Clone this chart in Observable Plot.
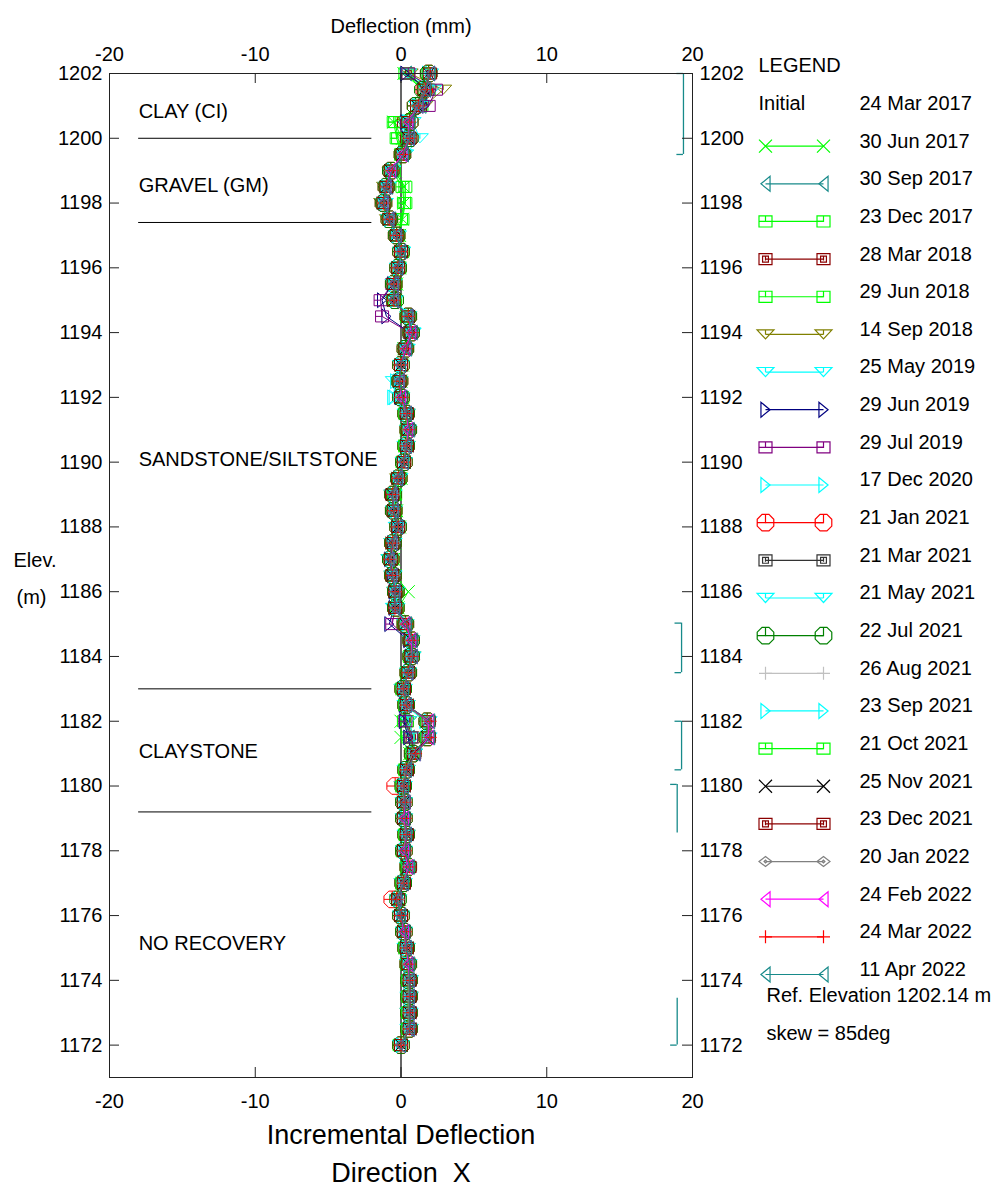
<!DOCTYPE html>
<html>
<head>
<meta charset="utf-8">
<script src="https://cdn.jsdelivr.net/npm/d3@7"></script>
<script src="https://cdn.jsdelivr.net/npm/@observablehq/plot@0.6"></script>
<style>
html, body { margin: 0; padding: 0; background: #fff; }
#wrap { position: relative; width: 1000px; height: 1198px; }
#main { position: absolute; left: 0; top: 0; }
#legend { position: absolute; left: 745px; top: 0; }
</style>
</head>
<body>
<div id="wrap"><div id="main"></div><div id="legend"></div></div>
<script>
// ---------- DATA ----------
const elevations = [1202,1201.5,1201,1200.5,1200,1199.5,1199,1198.5,1198,1197.5,
  1197,1196.5,1196,1195.5,1195,1194.5,1194,1193.5,1193,1192.5,
  1192,1191.5,1191,1190.5,1190,1189.5,1189,1188.5,1188,1187.5,
  1187,1186.5,1186,1185.5,1185,1184.5,1184,1183.5,1183,1182.5,
  1182,1181.5,1181,1180.5,1180,1179.5,1179,1178.5,1178,1177.5,
  1177,1176.5,1176,1175.5,1175,1174.5,1174,1173.5,1173,1172.5,1172];

const xTicks = [-20, -10, 0, 10, 20];
const yTicks = [1172,1174,1176,1178,1180,1182,1184,1186,1188,1190,1192,1194,1196,1198,1200,1202];

const initialLabel = "Initial";
const initialDate = "24 Mar 2017";
const seriesDates = ["30 Jun 2017","30 Sep 2017","23 Dec 2017","28 Mar 2018","29 Jun 2018","14 Sep 2018",
  "25 May 2019","29 Jun 2019","29 Jul 2019","17 Dec 2020","21 Jan 2021","21 Mar 2021","21 May 2021",
  "22 Jul 2021","26 Aug 2021","23 Sep 2021","21 Oct 2021","25 Nov 2021","23 Dec 2021","20 Jan 2022",
  "24 Feb 2022","24 Mar 2022","11 Apr 2022"];

const d20170630 = [0.2,1.5,1.3,-0.5,0.1,0.0,-0.4,0.2,0.2,0.1,
  -0.1,0.1,-0.1,-0.3,-0.4,0.4,0.6,0.2,0.1,0.0,
  0.1,0.3,0.4,0.3,0.2,0.0,-0.4,-0.3,-0.1,-0.4,
  -0.5,-0.4,0.5,-0.2,0.2,0.6,0.6,0.4,0.1,0.3,
  0.0,0.0,0.6,0.3,0.1,0.2,0.2,0.3,0.2,0.4,
  0.1,-0.1,0.0,0.2,0.3,0.4,0.5,0.5,0.5,0.5,0.0];
const d20170930 = [0.4,1.7,1.4,0.1,0.4,0.1,-0.6,-0.9,-1.1,-0.7,
  -0.3,0.0,-0.2,-0.5,-0.5,0.4,0.7,0.3,0.0,-0.1,
  0.0,0.3,0.5,0.3,0.2,-0.1,-0.5,-0.5,-0.2,-0.5,
  -0.7,-0.5,-0.3,-0.3,0.3,0.7,0.7,0.5,0.1,0.3,
  0.3,0.6,0.8,0.3,0.1,0.2,0.2,0.3,0.2,0.5,
  0.1,-0.2,0.0,0.2,0.3,0.5,0.5,0.5,0.5,0.5,0.0];
const d20171223 = [0.3,1.6,1.3,-0.5,-0.3,0.0,-0.5,0.3,0.3,0.1,
  -0.2,0.0,-0.1,-0.4,-0.4,0.4,0.6,0.3,0.0,-0.1,
  0.0,0.3,0.4,0.3,0.1,-0.1,-0.4,-0.4,-0.2,-0.5,
  -0.6,-0.5,-0.3,-0.3,0.2,0.6,0.7,0.4,0.1,0.3,
  0.2,0.5,0.7,0.3,0.1,0.2,0.2,0.3,0.1,0.4,
  0.1,-0.2,0.0,0.2,0.3,0.4,0.5,0.5,0.5,0.5,-0.1];
const d20180328 = [0.5,1.8,1.3,0.2,0.4,0.1,-0.7,-1.0,-1.2,-0.8,
  -0.3,0.0,-0.2,-0.5,-0.5,0.5,0.7,0.3,0.0,-0.1,
  0.0,0.35,0.5,0.35,0.2,-0.15,-0.55,-0.5,-0.2,-0.55,
  -0.7,-0.55,-0.35,-0.35,0.3,0.7,0.7,0.5,0.15,0.35,
  0.4,0.8,0.8,0.35,0.15,0.2,0.2,0.35,0.2,0.5,
  0.15,-0.2,0.0,0.2,0.35,0.5,0.55,0.55,0.55,0.55,0.0];
const d20180629 = [0.4,1.9,1.4,-0.4,-0.2,0.1,-0.6,0.1,0.2,0.0,
  -0.2,0.1,-0.2,-0.4,-0.5,0.5,0.7,0.3,0.0,-0.1,
  0.1,0.4,0.5,0.3,0.2,-0.1,-0.5,-0.4,-0.2,-0.5,
  -0.7,-0.5,-0.3,-0.3,0.3,0.7,0.6,0.5,0.2,0.3,
  0.4,0.7,0.8,0.4,0.1,0.2,0.2,0.4,0.2,0.5,
  0.1,-0.2,0.0,0.2,0.4,0.5,0.5,0.6,0.5,0.5,0.0];
const d20180914 = [0.6,2.9,1.6,0.3,0.5,0.1,-0.7,-1.1,-1.3,-0.9,
  -0.3,0.0,-0.2,-0.5,-0.6,0.5,0.7,0.3,0.0,-0.1,
  0.0,0.4,0.5,0.4,0.2,-0.2,-0.6,-0.5,-0.2,-0.6,
  -0.8,-0.6,-0.4,-0.4,0.3,0.7,0.8,0.5,0.1,0.4,
  0.5,0.9,0.9,0.4,0.1,0.2,0.2,0.4,0.2,0.5,
  0.1,-0.2,0.0,0.2,0.4,0.5,0.6,0.6,0.5,0.6,0.0];
const d20190525 = [0.5,2.2,1.5,0.8,1.3,0.3,-0.6,-1.0,-1.2,-0.8,
  -0.3,0.1,-0.2,-0.5,-0.5,0.5,0.8,0.3,0.0,-0.5,
  0.0,0.3,0.5,0.3,0.2,-0.1,-0.6,-0.5,-0.3,-0.6,
  -0.8,-0.6,-0.4,-0.5,0.3,0.7,0.8,0.5,0.1,0.3,
  0.5,0.9,0.9,0.3,0.1,0.2,0.2,0.3,0.2,0.5,
  0.1,-0.2,0.0,0.2,0.3,0.5,0.6,0.5,0.5,0.5,0.0];
const d20190629 = [0.3,1.9,1.6,0.3,0.4,0.1,-0.7,-1.0,-1.2,-0.8,
  -0.3,0.0,-0.2,-0.6,-1.3,-1.0,0.6,0.3,0.0,-0.1,
  -0.1,0.3,0.5,0.3,0.2,-0.2,-0.5,-0.5,-0.3,-0.6,
  -0.8,-0.6,-0.5,-0.5,-0.8,0.5,0.6,0.5,0.1,0.2,
  0.2,0.5,0.7,0.3,0.1,0.2,0.2,0.3,0.2,0.4,
  0.1,-0.2,0.0,0.2,0.3,0.5,0.5,0.5,0.5,0.5,0.0];
const d20190729 = [0.5,2.4,1.9,0.4,0.5,0.1,-0.7,-1.0,-1.2,-0.8,
  -0.3,0.0,-0.2,-0.6,-1.4,-1.3,0.6,0.3,0.0,-0.1,
  0.0,0.3,0.5,0.4,0.2,-0.2,-0.6,-0.5,-0.2,-0.5,
  -0.7,-0.5,-0.4,-0.4,-0.6,0.6,0.7,0.5,0.1,0.3,
  0.3,0.7,0.9,0.4,0.1,0.2,0.2,0.4,0.2,0.5,
  0.1,-0.2,0.0,0.2,0.3,0.5,0.5,0.5,0.6,0.5,0.0];
const d20201217 = [1.8,1.7,1.1,0.4,0.5,0.1,-0.7,-1.0,-1.2,-0.8,
  -0.3,0.0,-0.2,-0.5,-0.4,0.5,0.7,0.3,0.0,-0.2,
  -0.6,0.3,0.5,0.3,0.2,-0.2,-0.5,-0.5,-0.2,-0.5,
  -0.7,-0.5,-0.4,-0.3,0.3,0.7,0.7,0.5,0.1,0.3,
  1.6,1.7,0.9,0.4,0.1,0.2,0.2,0.3,0.2,0.5,
  0.1,-0.2,0.0,0.2,0.3,0.5,0.5,0.5,0.5,0.5,0.0];
const d20210121 = [1.9,1.6,1.0,0.6,0.6,0.1,-0.7,-1.0,-1.2,-0.8,
  -0.3,0.0,-0.2,-0.5,-0.4,0.5,0.7,0.3,0.0,-0.1,
  0.0,0.35,0.5,0.35,0.2,-0.15,-0.55,-0.5,-0.2,-0.55,
  -0.7,-0.55,-0.35,-0.35,0.3,0.7,0.7,0.5,0.15,0.35,
  1.8,1.8,0.8,0.35,-0.4,0.2,0.2,0.35,0.2,0.5,
  0.15,-0.6,0.0,0.2,0.35,0.5,0.55,0.55,0.55,0.55,0.0];
const d20210321 = [1.9,1.6,1.1,0.5,0.5,0.1,-0.7,-1.0,-1.2,-0.8,
  -0.3,0.0,-0.2,-0.5,-0.5,0.5,0.7,0.3,0.0,-0.1,
  0.0,0.4,0.5,0.4,0.2,-0.2,-0.5,-0.5,-0.2,-0.5,
  -0.7,-0.6,-0.4,-0.4,0.3,0.7,0.7,0.5,0.2,0.4,
  1.8,1.8,0.9,0.4,0.2,0.2,0.2,0.4,0.2,0.5,
  0.2,-0.2,0.0,0.2,0.4,0.5,0.6,0.6,0.6,0.6,0.0];
const d20210521 = [2.0,1.7,1.1,0.5,0.6,0.2,-0.6,-0.9,-1.1,-0.8,
  -0.2,0.0,-0.2,-0.5,-0.4,0.5,0.8,0.4,0.0,-0.1,
  0.0,0.4,0.5,0.4,0.2,-0.1,-0.5,-0.5,-0.2,-0.5,
  -0.7,-0.5,-0.3,-0.3,0.3,0.7,0.7,0.5,0.2,0.4,
  1.9,1.9,0.9,0.4,0.2,0.2,0.2,0.4,0.2,0.5,
  0.2,-0.2,0.0,0.2,0.4,0.5,0.6,0.6,0.6,0.6,0.0];
const d20210722 = [1.9,1.5,1.0,0.6,0.6,0.1,-0.7,-1.0,-1.2,-0.8,
  -0.3,0.0,-0.2,-0.5,-0.4,0.5,0.7,0.3,0.0,-0.1,
  0.0,0.35,0.5,0.35,0.2,-0.15,-0.55,-0.5,-0.2,-0.55,
  -0.7,-0.55,-0.35,-0.35,0.3,0.7,0.7,0.5,0.15,0.35,
  1.8,1.8,0.8,0.35,0.15,0.2,0.2,0.35,0.2,0.5,
  0.15,-0.2,0.0,0.2,0.35,0.5,0.55,0.55,0.55,0.55,0.0];
const d20210826 = [1.9,1.6,1.1,0.5,0.5,0.1,-0.7,-1.0,-1.2,-0.8,
  -0.3,0.0,-0.2,-0.5,-0.5,0.5,0.7,0.3,0.0,-0.1,
  0.0,0.3,0.5,0.3,0.2,-0.2,-0.5,-0.5,-0.2,-0.5,
  -0.7,-0.5,-0.4,-0.4,0.3,0.7,0.7,0.5,0.1,0.3,
  1.8,1.8,0.8,0.3,0.1,0.2,0.2,0.3,0.2,0.5,
  0.1,-0.2,0.0,0.2,0.3,0.5,0.5,0.5,0.5,0.5,0.0];
const d20210923 = [2.0,1.7,1.2,0.5,0.6,0.2,-0.6,-1.0,-1.1,-0.8,
  -0.3,0.1,-0.2,-0.5,-0.4,0.6,0.8,0.4,0.0,-0.4,
  -0.5,0.4,0.5,0.4,0.2,-0.1,-0.5,-0.4,-0.2,-0.5,
  -0.7,-0.5,-0.3,-0.3,0.4,0.7,0.8,0.5,0.2,0.4,
  1.9,1.9,0.9,0.4,0.2,0.2,0.3,0.4,0.2,0.5,
  0.2,-0.2,0.1,0.2,0.4,0.5,0.6,0.6,0.6,0.6,0.0];
const d20211021 = [1.9,1.6,1.1,0.5,0.5,0.1,-0.7,-1.0,-1.2,-0.8,
  -0.3,0.0,-0.2,-0.5,-0.5,0.5,0.7,0.3,0.0,-0.1,
  0.0,0.3,0.5,0.3,0.2,-0.2,-0.5,-0.5,-0.2,-0.6,
  -0.7,-0.6,-0.4,-0.4,0.3,0.7,0.7,0.5,0.1,0.3,
  1.8,1.8,0.8,0.3,0.1,0.2,0.2,0.3,0.2,0.5,
  0.1,-0.2,0.0,0.2,0.3,0.5,0.5,0.5,0.5,0.5,0.0];
const d20211125 = [1.9,1.6,1.1,0.5,0.5,0.1,-0.7,-1.0,-1.2,-0.8,
  -0.3,0.0,-0.2,-0.5,-0.5,0.5,0.7,0.3,0.0,-0.1,
  0.0,0.4,0.5,0.4,0.2,-0.2,-0.6,-0.5,-0.2,-0.6,
  -0.7,-0.6,-0.4,-0.4,0.3,0.7,0.7,0.5,0.2,0.4,
  1.8,1.8,0.9,0.4,0.2,0.2,0.2,0.4,0.2,0.5,
  0.2,-0.2,0.0,0.2,0.4,0.5,0.6,0.6,0.6,0.6,0.0];
const d20211223 = [2.0,1.6,1.1,0.5,0.6,0.1,-0.7,-1.0,-1.2,-0.8,
  -0.3,0.0,-0.2,-0.5,-0.5,0.5,0.7,0.3,0.0,-0.1,
  0.0,0.4,0.5,0.4,0.2,-0.2,-0.6,-0.5,-0.2,-0.6,
  -0.7,-0.6,-0.4,-0.4,0.3,0.7,0.7,0.5,0.2,0.4,
  1.9,1.9,0.9,0.4,0.2,0.2,0.2,0.4,0.2,0.6,
  0.2,-0.2,0.0,0.2,0.4,0.5,0.6,0.6,0.6,0.6,0.0];
const d20220120 = [1.9,1.6,1.1,0.5,0.5,0.1,-0.7,-1.0,-1.2,-0.8,
  -0.3,0.0,-0.2,-0.5,-0.5,0.5,0.7,0.3,0.0,-0.1,
  0.0,0.3,0.5,0.3,0.2,-0.2,-0.5,-0.5,-0.2,-0.5,
  -0.7,-0.5,-0.4,-0.4,0.3,0.7,0.7,0.5,0.1,0.3,
  1.8,1.8,0.8,0.3,0.1,0.2,0.2,0.3,0.2,0.5,
  0.1,-0.2,0.0,0.2,0.3,0.5,0.5,0.5,0.5,0.5,0.0];
const d20220224 = [2.0,1.7,1.2,0.5,0.6,0.1,-0.7,-1.0,-1.2,-0.8,
  -0.3,0.0,-0.2,-0.5,-0.5,0.5,0.7,0.3,0.0,-0.1,
  0.0,0.4,0.5,0.4,0.2,-0.2,-0.6,-0.5,-0.2,-0.6,
  -0.8,-0.6,-0.4,-0.4,0.3,0.7,0.8,0.5,0.2,0.4,
  1.9,1.9,1.0,0.4,0.2,0.3,0.2,0.4,0.2,0.5,
  0.2,-0.3,0.0,0.2,0.4,0.5,0.6,0.6,0.6,0.6,0.0];
const d20220324 = [2.0,1.7,1.2,0.6,0.6,0.2,-0.6,-1.0,-1.2,-0.8,
  -0.3,0.0,-0.2,-0.5,-0.5,0.5,0.8,0.4,0.0,-0.1,
  0.1,0.4,0.6,0.4,0.2,-0.2,-0.6,-0.5,-0.2,-0.6,
  -0.8,-0.6,-0.4,-0.4,0.4,0.8,0.8,0.5,0.2,0.4,
  2.0,2.0,1.0,0.4,0.2,0.3,0.3,0.4,0.3,0.6,
  0.2,-0.3,0.0,0.3,0.4,0.6,0.6,0.6,0.6,0.6,0.0];
const d20220411 = [2.0,1.7,1.2,0.6,0.6,0.2,-0.6,-1.0,-1.2,-0.8,
  -0.3,0.0,-0.2,-0.5,-0.5,0.5,0.8,0.4,0.0,-0.1,
  0.1,0.4,0.6,0.4,0.2,-0.2,-0.6,-0.5,-0.2,-0.6,
  -0.8,-0.6,-0.4,-0.4,0.4,0.8,0.8,0.5,0.2,0.4,
  2.0,2.0,1.0,0.4,0.2,0.3,0.3,0.4,0.3,0.6,
  0.2,-0.3,0.0,0.3,0.4,0.6,0.6,0.6,0.6,0.6,0.0];

const seriesValues = [d20170630,d20170930,d20171223,d20180328,d20180629,d20180914,d20190525,
  d20190629,d20190729,d20201217,d20210121,d20210321,d20210521,d20210722,d20210826,d20210923,
  d20211021,d20211125,d20211223,d20220120,d20220224,d20220324,d20220411];

// Stratigraphy
const layerNames = ["CLAY (CI)", "GRAVEL (GM)", "SANDSTONE/SILTSTONE", "CLAYSTONE", "NO RECOVERY"];
const layerLabelElev = [1200.83, 1198.54, 1190.09, 1181.07, 1175.12];
const layerBoundaries = [1200.0, 1197.4, 1183.0, 1179.2];

// Zone brackets on the right
const bracketTop = [1202.0, 1185.03, 1182.0, 1180.05, 1173.45];
const bracketBottom = [1199.5, 1183.5, 1180.5, 1178.55, 1172.0];
const bracketX = [19.38, 19.25, 19.25, 18.95, 18.95];
const bracketTickTop = [true, true, true, true, false];
const bracketTickBottom = [true, true, true, false, true];

const refText = "Ref. Elevation 1202.14 m";
const skewText = "skew = 85deg";

// ---------- STYLES / LAYOUT ----------
const FONT = "'Liberation Sans', Arial, Helvetica, sans-serif";
const W = 1000, H = 1198, ML = 109, MR_ = 308, MT = 73, MB = 121;
const FW = W - ML - MR_, FH = H - MT - MB, TICK = 10;
const h0 = (s) => Math.sqrt(s / Math.PI);
const SYM = {
  times: { draw(c, s) { const h = h0(s); c.moveTo(-h, -h); c.lineTo(h, h); c.moveTo(h, -h); c.lineTo(-h, h); } },
  plus: { draw(c, s) { const h = h0(s); c.moveTo(-h, 0); c.lineTo(h, 0); c.moveTo(0, -h); c.lineTo(0, h); } },
  triLeft: { draw(c, s) { const h = h0(s), w = 0.7 * h, t = 1.15 * h; c.moveTo(-w, 0); c.lineTo(w, -t); c.lineTo(w, t); c.closePath(); } },
  triRight: { draw(c, s) { const h = h0(s), w = 0.7 * h, t = 1.15 * h; c.moveTo(w, 0); c.lineTo(-w, -t); c.lineTo(-w, t); c.closePath(); } },
  triDown: { draw(c, s) { const h = h0(s), w = 1.3 * h, t = 0.7 * h; c.moveTo(-w, -t); c.lineTo(w, -t); c.lineTo(0, t); c.closePath(); c.moveTo(0, -t); c.lineTo(0, 0); } },
  squareQ: { draw(c, s) { const h = h0(s), v = 0.85 * h; c.moveTo(-h, -v); c.lineTo(h, -v); c.lineTo(h, v); c.lineTo(-h, v); c.closePath(); c.moveTo(0, -v); c.lineTo(0, 0); c.lineTo(-h, 0); } },
  squareBox: { draw(c, s) { const h = h0(s), v = 0.85 * h, q = 0.45 * h; c.moveTo(-h, -v); c.lineTo(h, -v); c.lineTo(h, v); c.lineTo(-h, v); c.closePath(); c.moveTo(-q, -q); c.lineTo(q, -q); c.lineTo(q, q); c.lineTo(-q, q); c.closePath(); c.moveTo(0, -q); c.lineTo(0, 0.2 * h); } },
  octagon: { draw(c, s) { const h = h0(s), R = 1.38 * h; for (let k = 0; k < 8; k++) { const a = Math.PI / 8 + k * Math.PI / 4; const px = R * Math.cos(a), py = R * Math.sin(a); if (k === 0) c.moveTo(px, py); else c.lineTo(px, py); } c.closePath(); const e = R * Math.cos(Math.PI / 8); c.moveTo(0, -e); c.lineTo(0, 0); c.lineTo(-e, 0); } },
  diamond: { draw(c, s) { const h = h0(s), v = 0.77 * h, d = 0.22 * h; c.moveTo(-h, 0); c.lineTo(0, -v); c.lineTo(h, 0); c.lineTo(0, v); c.closePath(); c.moveTo(-d, 0); c.lineTo(0, -d); c.lineTo(d, 0); c.lineTo(0, d); c.closePath(); } }
};
const LIME = "#00ff00", TEAL = "#178a8a", DRED = "#8b0000", OLIVE = "#808000", CYAN = "#00ffff",
  NAVY = "#000080", PURPLE = "#800080", RED = "#ff0000", GREEN = "#008000", MAGENTA = "#ff00ff";
const seriesColors = [LIME, TEAL, LIME, DRED, LIME, OLIVE, CYAN, NAVY, PURPLE, CYAN, RED, "#333333",
  CYAN, GREEN, "#c0c0c0", CYAN, LIME, "#000000", DRED, "#808080", MAGENTA, RED, TEAL];
const seriesSymbols = [SYM.times, SYM.triLeft, SYM.squareQ, SYM.squareBox, SYM.squareQ, SYM.triDown,
  SYM.triDown, SYM.triRight, SYM.squareQ, SYM.triRight, SYM.octagon, SYM.squareBox, SYM.triDown,
  SYM.octagon, SYM.plus, SYM.triRight, SYM.squareQ, SYM.times, SYM.squareBox, SYM.diamond,
  SYM.triLeft, SYM.plus, SYM.triLeft];
const MR = 6.5;

// ---------- MAIN PLOT ----------
const marks = [
  Plot.ruleX([0], {stroke: "#333", strokeWidth: 1.5}),
  Plot.ruleY(layerBoundaries, {y: d => d, x1: -18, x2: -2, stroke: "#000", strokeWidth: 1}),
  Plot.text(layerNames, {x: -18, y: (d, i) => layerLabelElev[i], text: d => d, textAnchor: "start", fill: "#000"}),
  Plot.ruleX(bracketX, {x: d => d, y1: (d, i) => bracketTop[i], y2: (d, i) => bracketBottom[i], stroke: TEAL, strokeWidth: 1.3}),
  Plot.ruleY(bracketX.map((d, i) => i).filter(i => bracketTickTop[i]), {y: i => bracketTop[i], x1: i => bracketX[i] - 0.45, x2: i => bracketX[i], stroke: TEAL, strokeWidth: 1.3}),
  Plot.ruleY(bracketX.map((d, i) => i).filter(i => bracketTickBottom[i]), {y: i => bracketBottom[i], x1: i => bracketX[i] - 0.45, x2: i => bracketX[i], stroke: TEAL, strokeWidth: 1.3})
];
seriesValues.forEach((vals, s) => {
  const rows = vals.map((v, k) => ({x: v, y: elevations[k]}));
  marks.push(Plot.line(rows, {x: "x", y: "y", stroke: seriesColors[s], strokeWidth: 1}));
  marks.push(Plot.dot(rows, {x: "x", y: "y", symbol: seriesSymbols[s], r: MR, stroke: seriesColors[s], fill: "none", strokeWidth: 1}));
});
marks.push(
  Plot.frame({stroke: "#222", strokeWidth: 1}),
  // inward tick marks
  Plot.ruleX(xTicks, {x: d => d, insetTop: FH - TICK, stroke: "#222"}),
  Plot.ruleX(xTicks, {x: d => d, insetBottom: FH - TICK, stroke: "#222"}),
  Plot.ruleY(yTicks, {y: d => d, insetRight: FW - TICK, stroke: "#222"}),
  Plot.ruleY(yTicks, {y: d => d, insetLeft: FW - TICK, stroke: "#222"}),
  // tick labels
  Plot.axisX({anchor: "bottom", ticks: xTicks, tickSize: 0, tickPadding: 16, tickFormat: d => String(d), label: null}),
  Plot.axisX({anchor: "top", ticks: xTicks, tickSize: 0, tickPadding: 13, tickFormat: d => String(d), label: null}),
  Plot.axisY({anchor: "left", ticks: yTicks, tickSize: 0, tickPadding: 7, tickFormat: d => String(d), label: null}),
  Plot.axisY({anchor: "right", ticks: yTicks, tickSize: 0, tickPadding: 7, tickFormat: d => String(d), label: null}),
  Plot.text(["Deflection (mm)"], {frameAnchor: "top", dy: -55, text: d => d}),
  Plot.text(["Incremental Deflection"], {frameAnchor: "bottom", dy: 66, text: d => d, fontSize: 27}),
  Plot.text(["Direction\u00a0 X"], {frameAnchor: "bottom", dy: 104, text: d => d, fontSize: 27}),
  Plot.text(["Elev."], {frameAnchor: "left", dx: -96, dy: -15, text: d => d, textAnchor: "start"}),
  Plot.text(["(m)"], {frameAnchor: "left", dx: -93, dy: 22, text: d => d, textAnchor: "start"})
);

const main = Plot.plot({
  width: W, height: H,
  marginLeft: ML, marginRight: MR_, marginTop: MT, marginBottom: MB,
  x: {domain: [-20, 20]},
  y: {domain: [1171, 1202]},
  style: {fontSize: "20px", fontFamily: FONT, color: "#000", background: "#fff", overflow: "visible"},
  marks
});
document.getElementById("main").appendChild(main);

// ---------- LEGEND ----------
const legendMarks = [
  Plot.text(["LEGEND"], {x: 0, y: -1, dx: -7, text: d => d, textAnchor: "start"}),
  Plot.text([initialLabel], {x: 0, y: 0, dx: -7, text: d => d, textAnchor: "start"}),
  Plot.text([initialDate, ...seriesDates], {x: 1, y: (d, i) => i, dx: 36, text: d => d, textAnchor: "start"}),
  Plot.text([refText], {x: 0, y: 23, dx: 1, dy: 26, text: d => d, textAnchor: "start"}),
  Plot.text([skewText], {x: 0, y: 23, dx: 1, dy: 64, text: d => d, textAnchor: "start"})
];
seriesDates.forEach((d, s) => {
  const row = [s + 1];
  legendMarks.push(Plot.link(row, {x1: 0, x2: 1, y1: r => r, y2: r => r, dy: 5, stroke: seriesColors[s], strokeWidth: 1.2}));
  legendMarks.push(Plot.dot([0, 1], {x: v => v, y: () => s + 1, dy: 5, symbol: seriesSymbols[s], r: MR, stroke: seriesColors[s], fill: "none", strokeWidth: 1.2}));
});
const legend = Plot.plot({
  width: 255, height: H, margin: 0,
  x: {domain: [0, 1], range: [20, 78], axis: null},
  y: {domain: [0, 23], range: [103, 969], axis: null},
  style: {fontSize: "20px", fontFamily: FONT, color: "#000", background: "transparent", overflow: "visible"},
  marks: legendMarks
});
document.getElementById("legend").appendChild(legend);
</script>
</body>
</html>
